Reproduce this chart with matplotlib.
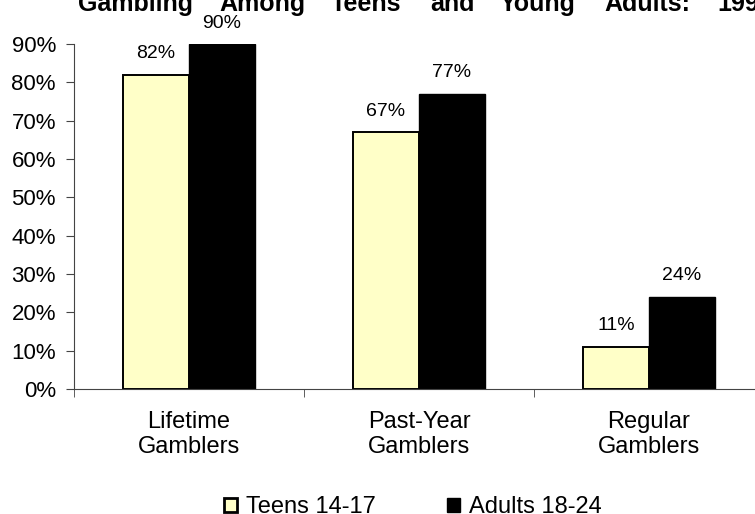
import numpy as np
from matplotlib import pyplot as plt
from matplotlib.patches import Patch

plt.rcParams['font.family'] = ['Liberation Sans', 'DejaVu Sans']

categories = ["Lifetime\nGamblers", "Past-Year\nGamblers", "Regular\nGamblers"]
teens = [82, 67, 11]
adults = [90, 77, 24]
series_names = ["Teens 14-17", "Adults 18-24"]
yticks = [0, 10, 20, 30, 40, 50, 60, 70, 80, 90]
title_words = ["Gambling", "Among", "Teens", "and", "Young", "Adults:", "1998"]
title_x = [78, 219, 331, 430, 500, 604, 717]  # px, words spread out like the original

teen_col = "#FFFFC8"
adult_col = "#000000"

fig = plt.figure(figsize=(7.55, 5.14), dpi=100)
ax = fig.add_axes([74 / 755, 1 - 389 / 514, 690 / 755, 345 / 514])

x = np.arange(len(categories))
w = 0.287
b1 = ax.bar(x - w / 2, teens, w, color=teen_col, edgecolor="black", linewidth=1.4)
b2 = ax.bar(x + w / 2, adults, w, color=adult_col, edgecolor="black", linewidth=1.0)

for bars, vals in ((b1, teens), (b2, adults)):
    for r, v in zip(bars, vals):
        ax.annotate("%d%%" % v, (r.get_x() + r.get_width() / 2, v), xytext=(0, 9),
                    textcoords="offset points", ha="center", va="bottom", fontsize=14,
                    annotation_clip=False)

ax.set_xlim(-0.5, 2.5)
ax.set_ylim(0, 90)
ax.set_yticks(yticks)
ax.set_yticklabels(["%d%%" % t for t in yticks], fontsize=16)
ax.set_xticks(x)
ax.set_xticklabels(categories, fontsize=17)
ax.tick_params(axis="x", length=0, pad=15.5)
ax.set_xticks([-0.5, 0.5, 1.5, 2.5], minor=True)
ax.tick_params(axis="x", which="minor", length=6, direction="out", color="#444444")
ax.tick_params(axis="y", length=6, direction="out", color="#444444", pad=7)
for s in ("top", "right"):
    ax.spines[s].set_visible(False)
ax.spines["left"].set_color("#444444")
ax.spines["bottom"].set_color("#444444")

for word, px in zip(title_words, title_x):
    fig.text(px / 755, 1 - 11 / 514, word, fontsize=18, fontweight="bold",
             ha="left", va="baseline")

handles = [Patch(facecolor=teen_col, edgecolor="black", linewidth=2.0),
           Patch(facecolor=adult_col, edgecolor="black")]
fig.legend(handles, series_names, loc="center", bbox_to_anchor=(413 / 755, 1 - 507 / 514),
           ncol=2, frameon=False, fontsize=17, handlelength=0.55, handleheight=0.55,
           handletextpad=0.4, columnspacing=3.0, borderpad=0)

fig.savefig("out.png", dpi=100)
